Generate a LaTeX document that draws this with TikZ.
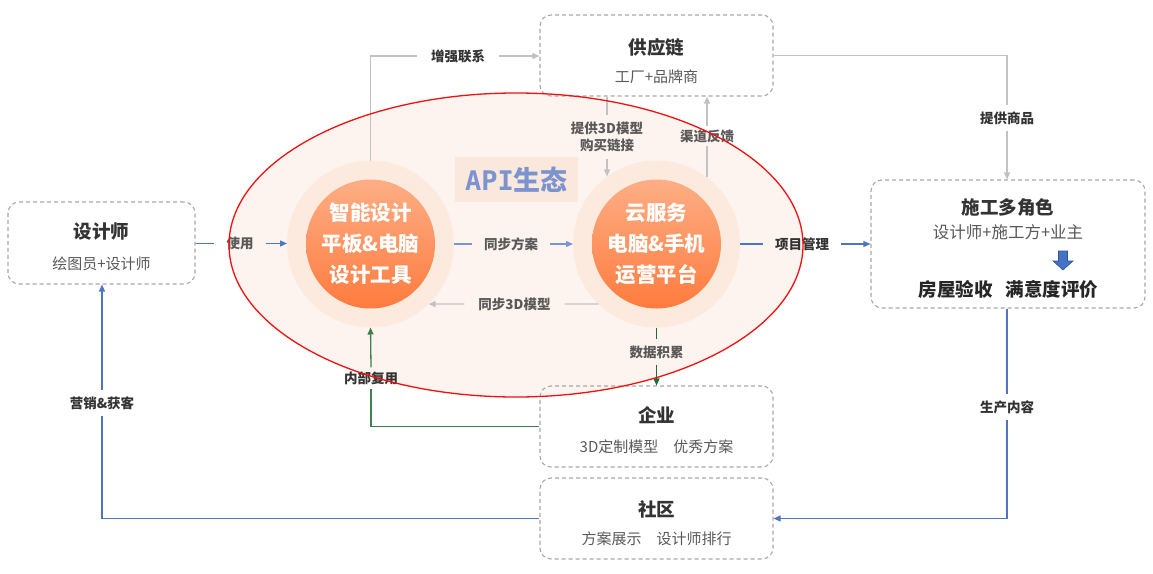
\documentclass[tikz,border=0pt]{standalone}
\usepackage{fontspec}
\setmainfont{Noto Sans CJK SC}
\newfontfamily\monof{DejaVu Sans Mono}
\usetikzlibrary{arrows.meta}
\definecolor{boxgray}{HTML}{A8A8A8}
\definecolor{bluec}{HTML}{4E74C2}
\definecolor{bluelt}{HTML}{7A95D3}
\definecolor{grayc}{HTML}{C2C2C2}
\definecolor{greendk}{HTML}{1F6B35}
\definecolor{greenc}{HTML}{3F7F50}
\definecolor{lbltxt}{HTML}{595959}
\definecolor{titletxt}{HTML}{333333}
\definecolor{elfill}{HTML}{FEF4EF}
\definecolor{halofill}{HTML}{FDEADF}
\definecolor{apifill}{HTML}{FBE8DD}
\definecolor{apitxt}{HTML}{7B93CF}
\definecolor{orgtop}{HTML}{FDAE85}
\definecolor{orgbot}{HTML}{FF7B3E}
\definecolor{ellred}{HTML}{F01010}
\definecolor{arrblue}{HTML}{4472C4}
\definecolor{arrblued}{HTML}{2F5597}
\begin{document}
\begin{tikzpicture}[x=1pt,y=-1pt,
 >={Triangle[length=7pt,width=6pt]},
 box/.style={draw=boxgray, dash pattern=on 4pt off 3pt, rounded corners=11pt, line width=1.1pt, inner sep=0pt},
 ttl/.style={font=\fontsize{18.5}{22}\selectfont\bfseries, text=titletxt, inner sep=0pt},
 subt/.style={font=\fontsize{15}{18}\selectfont, text=lbltxt, inner sep=0pt},
 lbl/.style={font=\fontsize{13.5}{17}\selectfont\bfseries, text=lbltxt, inner xsep=12pt, inner ysep=6pt},
 conn/.style={line width=1.3pt},
 halo/.style={circle, fill=halofill, minimum size=167pt, inner sep=0pt, outer sep=0pt},
 core/.style={circle, top color=orgtop, bottom color=orgbot, minimum size=129pt, inner sep=0pt, text=white, font=\fontsize{20.5}{31}\selectfont\bfseries, align=center},
]
\useasboundingbox (0,0) rectangle (1153,573);
\fill[white] (0,0) rectangle (1153,573);

% ecosystem ellipse fill
\fill[elfill] (516,245) ellipse [x radius=287, y radius=152];

% circles
\node[halo] (lhalo) at (370.5,244) {};
\node[halo] (rhalo) at (656.5,244) {};
\node[core] (lcore) at (370.5,244) {智能设计\\平板\&电脑\\设计工具};
\node[core] (rcore) at (656.5,244) {云服务\\电脑\&手机\\运营平台};

% API box
\node[fill=apifill, minimum width=123pt, minimum height=45pt, inner sep=0pt, text=apitxt, font=\fontsize{27}{30}\selectfont\bfseries] (api) at (516.5,179.5) {{\monof API}生态};

% boxes
\node[box, minimum width=187pt, minimum height=82pt] (designer) at (101.5,243) {};
\node[ttl] (designerT) at (101.5,232) {设计师};
\node[subt] (designerS) at (101.5,264) {绘图员+设计师};

\node[box, minimum width=233pt, minimum height=81pt] (supply) at (656.5,55.5) {};
\node[ttl] (supplyT) at (656.5,47) {供应链};
\node[subt] (supplyS) at (656.5,77) {工厂+品牌商};

\node[box, minimum width=274pt, minimum height=128pt] (build) at (1008,244) {};
\node[ttl] (buildT) at (1008,207) {施工多角色};
\node[subt, font=\fontsize{16.5}{19}\selectfont] (buildS) at (1008,232) {设计师+施工方+业主};
\node[ttl, text=black!85, font=\fontsize{18.5}{22}\selectfont\bfseries] (buildB) at (1008.5,289) {房屋验收\hspace{13pt}满意度评价};
\draw[fill=arrblue, draw=arrblued, line width=0.6pt] (1058.5,251) -- (1067.5,251) -- (1067.5,261) -- (1073,261) -- (1063,270) -- (1053,261) -- (1058.5,261) -- cycle;

\node[box, minimum width=233pt, minimum height=81pt] (enterprise) at (656.5,426.5) {};
\node[ttl] (enterpriseT) at (656.5,415) {企业};
\node[subt] (enterpriseS) at (656.5,447) {3D定制模型\hspace{15pt}优秀方案};

\node[box, minimum width=233pt, minimum height=81pt] (community) at (656.5,518.5) {};
\node[ttl] (communityT) at (656.5,509) {社区};
\node[subt] (communityS) at (656.5,539) {方案展示\hspace{15pt}设计师排行};

% labels
\node[lbl] (lUse) at (240,243.5) {使用};
\node[lbl] (lSync) at (511,244) {同步方案};
\node[lbl, inner xsep=14pt] (lSync3d) at (514.5,304) {同步3D模型};
\node[lbl, text=titletxt] (lPM) at (802,244) {项目管理};
\node[lbl, text=titletxt, inner xsep=14pt] (lStrong) at (458,56) {增强联系};
\node[lbl, align=center, inner ysep=7pt, font=\fontsize{13.5}{17}\selectfont\bfseries] (lProv) at (607,137) {提供3D模型\\购买链接};
\node[lbl, inner ysep=3pt] (lFb) at (707,136) {渠道反馈};
\node[lbl, text=titletxt] (lGoods) at (1007,118) {提供商品};
\node[lbl, text=titletxt] (lProd) at (1007,407) {生产内容};
\node[lbl, text=titletxt] (lMkt) at (102,403) {营销\&获客};
\node[lbl] (lData) at (656.5,352) {数据积累};
\node[lbl, text=titletxt, inner ysep=4pt] (lReuse) at (371,378) {内部复用};

% connectors
\draw[conn, bluec] (designer.east |- lUse) -- (lUse.west);
\draw[conn, bluec, ->] (lUse.east) -- (lhalo.west |- lUse);

\draw[conn, bluelt] (lhalo.east) -- (lSync.west);
\draw[conn, bluelt, ->] (lSync.east) -- (rhalo.west);

\draw[conn, grayc] (rhalo.226) -- (lSync3d.east);
\draw[conn, grayc, ->] (lSync3d.west) -- (lhalo.314);

\draw[conn, bluec] (rhalo.east) -- (lPM.west);
\draw[conn, bluec, ->] (lPM.east) -- (build.west |- lPM);

\draw[conn, grayc] (lhalo.north) |- (lStrong.west);
\draw[conn, grayc, ->] (lStrong.east) -- (supply.west |- lStrong);

\draw[conn, grayc] (supply.south -| lProv) -- (lProv.north);
\draw[conn, grayc, ->] (lProv.south) -- (lProv.south |- rhalo.126.4);

\draw[conn, grayc] (lFb.south |- rhalo.53) -- (lFb.south);
\draw[conn, grayc, ->] (lFb.north) -- (lFb.north |- supply.south);

\draw[conn, grayc] (supply.east) -| (lGoods.north);
\draw[conn, grayc, ->] (lGoods.south) -- (lGoods.south |- build.north);

\draw[conn, bluec] (lProd.north |- build.south) -- (lProd.north);
\draw[conn, bluec, ->] (lProd.south) |- (community.east);

\draw[conn, bluec] (community.west) -| (lMkt.south);
\draw[conn, bluec, ->] (lMkt.north) -- (lMkt.north |- designer.south);

\draw[conn, greendk] (rhalo.south) -- (lData.north);
\draw[conn, greendk, ->] (lData.south) -- (lData.south |- enterprise.north);

\draw[conn, greenc] (enterprise.west) -| (lReuse.south);
\draw[conn, greenc, ->] (lReuse.north) -- (lhalo.south);

% ecosystem ellipse outline
\draw[ellred, line width=1.3pt] (516,245) ellipse [x radius=287, y radius=152];
\end{tikzpicture}
\end{document}
